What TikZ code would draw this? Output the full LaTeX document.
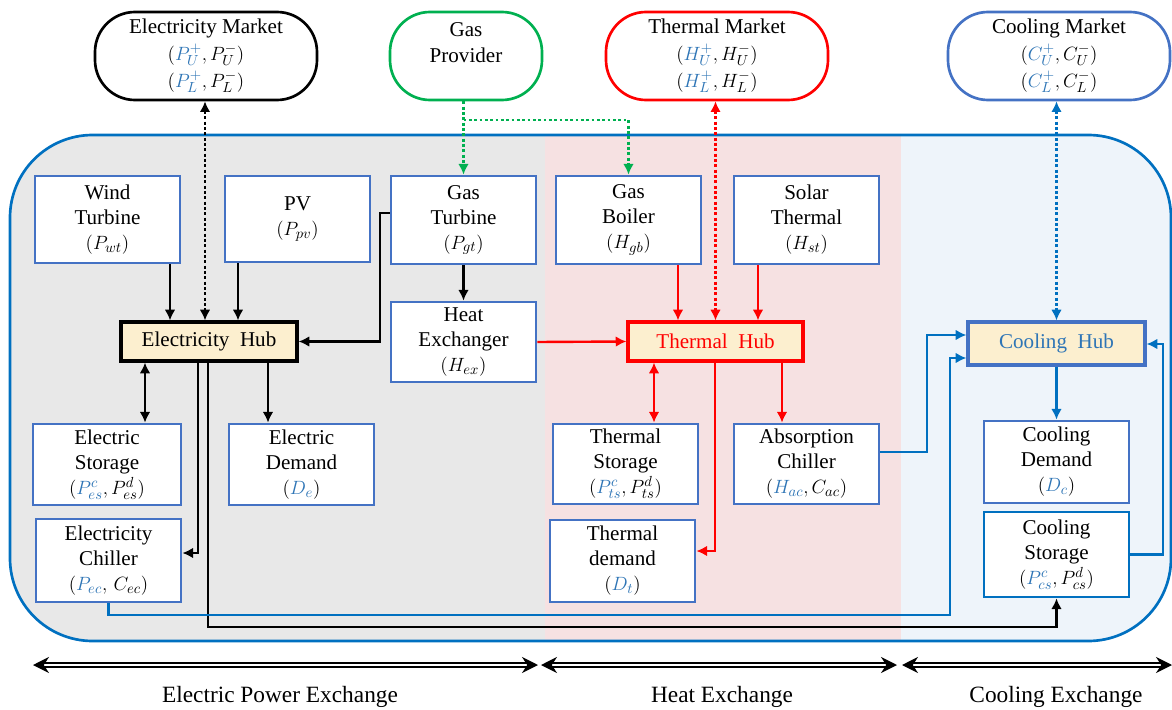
\documentclass[tikz,border=0pt]{standalone}
\usepackage{fontspec}
\setmainfont{Liberation Serif}
\usetikzlibrary{arrows.meta}

\definecolor{boxblue}{HTML}{4472C4}
\definecolor{deepblue}{HTML}{0070C0}
\definecolor{mathblue}{HTML}{2E75B6}
\definecolor{hubfill}{HTML}{FCEFCF}
\definecolor{bggray}{HTML}{E8E8E8}
\definecolor{bgpink}{HTML}{F6E1E2}
\definecolor{bgblue}{HTML}{EEF4FA}
\definecolor{gasgreen}{HTML}{00B050}
\definecolor{hotred}{HTML}{FF0000}

\newdimen\pxu \pxu=0.75pt
\newcommand\bl[1]{{\color{mathblue}#1}}

\begin{document}
\begin{tikzpicture}[x=0.75pt,y=-0.75pt,
  txt/.style={font=\fontsize{15.8}{18.75}\selectfont, align=center},
  bx/.style={txt, draw=boxblue, line width=2.1pt, fill=white, inner sep=0pt},
  hub/.style={txt, line width=2.4pt, fill=hubfill, inner sep=0pt},
  mkt/.style={txt, rounded corners=30pt, line width=2pt, fill=white, inner sep=0pt,
              minimum width=222\pxu, minimum height=88\pxu},
  conn/.style={line width=1.8pt, -{Latex[length=8pt,width=8pt]}},
  both/.style={line width=1.8pt, {Latex[length=8pt,width=8pt]}-{Latex[length=8pt,width=8pt]}},
  dots/.style={dash pattern=on 2.2pt off 1.8pt},
  span/.style={line width=1.2pt, double=white, double distance=1.7pt,
               {Stealth[length=12pt,width=12pt]}-{Stealth[length=12pt,width=12pt]}},
  caption/.style={font=\fontsize{17.5}{20}\selectfont}]

\useasboundingbox (0,0) rectangle (1172,710);

% shaded zones inside the energy-hub frame
\begin{scope}
  \clip[rounded corners=62pt] (10,135) rectangle (1171,641);
  \fill[bggray] (10,135) rectangle (545,641);
  \fill[bgpink] (545,135) rectangle (901,641);
  \fill[bgblue] (901,135) rectangle (1171,641);
\end{scope}
\draw[deepblue, line width=2pt, rounded corners=62pt] (10,135) rectangle (1171,641);

% markets and supplier
\node[mkt, draw=black] (em) at (206,56) {Electricity Market\\[1pt]$(\bl{P_U^{+}},P_U^{-})$\\[1.5pt]$(\bl{P_L^{+}},P_L^{-})$};
\node[mkt, draw=gasgreen, minimum width=152\pxu] (gp) at (466,56) {Gas\\[1pt]Provider\\[1.5pt]\mbox{}};
\node[mkt, draw=hotred] (tm) at (717,56) {Thermal Market\\[1pt]$(\bl{H_U^{+}},H_U^{-})$\\[1.5pt]$(\bl{H_L^{+}},H_L^{-})$};
\node[mkt, draw=boxblue] (cm) at (1059,56) {Cooling Market\\[1pt]$(\bl{C_U^{+}},C_U^{-})$\\[1.5pt]$(\bl{C_L^{+}},C_L^{-})$};

% generation units
\node[bx, minimum width=145\pxu, minimum height=87\pxu] (wt) at (107.5,219.5) {Wind\\Turbine\\$(P_{wt})$};
\node[bx, minimum width=145\pxu, minimum height=86\pxu] (pv) at (297.5,219) {PV\\$(P_{pv})$};
\node[bx, minimum width=145\pxu, minimum height=88\pxu] (gt) at (463.5,220) {Gas\\Turbine\\$(P_{gt})$};
\node[bx, minimum width=145\pxu, minimum height=88\pxu] (gb) at (628.5,220) {Gas\\Boiler\\$(H_{gb})$};
\node[bx, minimum width=145\pxu, minimum height=88\pxu] (st) at (806.5,220) {Solar\\Thermal\\$(H_{st})$};
\node[bx, minimum width=145\pxu, minimum height=80\pxu] (hx) at (463.5,342) {Heat\\Exchanger\\$(H_{ex})$};

% hubs
\node[hub, draw=black, minimum width=176\pxu, minimum height=39\pxu] (eh) at (209,341.5) {Electricity\ \ Hub};
\node[hub, draw=hotred, text=hotred, minimum width=175\pxu, minimum height=39\pxu] (th) at (715.5,341.5) {Thermal\ \ Hub};
\node[hub, draw=boxblue, text=mathblue, minimum width=177\pxu, minimum height=43\pxu] (ch) at (1056.5,343.5) {Cooling\ \ Hub};

% storage, conversion and demand
\node[bx, minimum width=148\pxu, minimum height=81\pxu] (es) at (107,464.5) {Electric\\Storage\\$(\bl{P_{es}^{c}},P_{es}^{d})$};
\node[bx, minimum width=145\pxu, minimum height=81\pxu] (ed) at (301.5,464.5) {Electric\\Demand\\$(\bl{D_e})$};
\node[bx, minimum width=145\pxu, minimum height=83\pxu] (ec) at (108.5,560.5) {Electricity\\Chiller\\$(\bl{P_{ec}},\,C_{ec})$};
\node[bx, minimum width=145\pxu, minimum height=80\pxu] (ts) at (625.5,464) {Thermal\\Storage\\$(\bl{P_{ts}^{c}},P_{ts}^{d})$};
\node[bx, minimum width=145\pxu, minimum height=80\pxu] (ac) at (806.5,464) {Absorption\\Chiller\\$(\bl{H_{ac}},C_{ac})$};
\node[bx, minimum width=145\pxu, minimum height=82\pxu] (td) at (622.5,561) {Thermal\\demand\\$(\bl{D_t})$};
\node[bx, minimum width=145\pxu, minimum height=82\pxu] (cd) at (1056.5,462) {Cooling\\Demand\\$(\bl{D_c})$};
\node[bx, draw=deepblue, minimum width=145\pxu, minimum height=85\pxu] (cs) at (1056.5,554.5) {Cooling\\Storage\\$(\bl{P_{cs}^{c}},P_{cs}^{d})$};

% routing guides
\coordinate (x145) at (145,0);
\coordinate (x170) at (170,0);
\coordinate (x198) at (198,0);
\coordinate (x205) at (205,0);
\coordinate (x208) at (208,0);
\coordinate (x238) at (238,0);
\coordinate (x268) at (268,0);
\coordinate (x654) at (654,0);
\coordinate (x678) at (678,0);
\coordinate (x715) at (715,0);
\coordinate (x758) at (758,0);
\coordinate (x782) at (782,0);
\coordinate (gasrun) at (0,120);
\coordinate (gtbend) at (380,213);
\coordinate (ecrun) at (0,553);
\coordinate (tdrun) at (0,551);
\coordinate (acrun) at (0,452);
\coordinate (csrun) at (0,627);
\coordinate (acup) at (927,335);
\coordinate (ecdown) at (950,615);
\coordinate (ecup) at (950,358);
\coordinate (csup) at (1163,344);

% electricity side
\draw[conn] (wt.south -| x170) -- (eh.north -| x170);
\draw[both, dots] (em.south -| x205) -- (eh.north -| x205);
\draw[conn] (pv.south -| x238) -- (eh.north -| x238);
\draw[conn] (gt.west |- gtbend) -- (gtbend) |- (eh.east);
\draw[conn] (gt.south) -- (hx.north);
\draw[both] (eh.south -| x145) -- (es.north -| x145);
\draw[conn] (eh.south -| x268) -- (ed.north -| x268);
\draw[conn] (eh.south -| x198) |- (ec.east |- ecrun);
\draw[conn] (eh.south -| x208) |- (cs.south |- csrun) -- (cs.south);

% gas supply
\draw[gasgreen, conn, dots] (gt.north |- gp.south) -- (gt.north);
\draw[gasgreen, conn, dots] (gt.north |- gasrun) -| (gb.north);

% heat side
\draw[hotred, both, dots] (tm.south -| th.north) -- (th.north);
\draw[hotred, conn] (gb.south -| x678) -- (th.north -| x678);
\draw[hotred, conn] (st.south -| x758) -- (th.north -| x758);
\draw[hotred, conn] (hx.east) -- (th.west);
\draw[hotred, both] (th.south -| x654) -- (ts.north -| x654);
\draw[hotred, conn] (th.south -| x715) |- (td.east |- tdrun);
\draw[hotred, conn] (th.south -| x782) -- (ac.north -| x782);

% cooling side
\draw[deepblue, both, dots] (cm.south -| ch.north) -- (ch.north);
\draw[deepblue, conn] (ch.south) -- (cd.north);
\draw[deepblue, conn] (ac.east |- acrun) -| (acup) -- (ch.west |- acup);
\draw[deepblue, conn] (ec.south) |- (ecdown) -- (ecup) -- (ch.west |- ecup);
\draw[deepblue, conn] (cs.east) -| (csup) -- (ch.east |- csup);

% exchange spans
\coordinate (s1a) at (33,665);  \coordinate (s1b) at (538,665);
\coordinate (s2a) at (541,665); \coordinate (s2b) at (897,665);
\coordinate (s3a) at (902,665); \coordinate (s3b) at (1172,665);
\draw[span] (s1a) -- (s1b);
\draw[span] (s2a) -- (s2b);
\draw[span] (s3a) -- (s3b);
\node[caption] (l1) at (280,697) {Electric Power Exchange};
\node[caption] (l2) at (722,697) {Heat Exchange};
\node[caption] (l3) at (1056,697) {Cooling Exchange};
\end{tikzpicture}
\end{document}
